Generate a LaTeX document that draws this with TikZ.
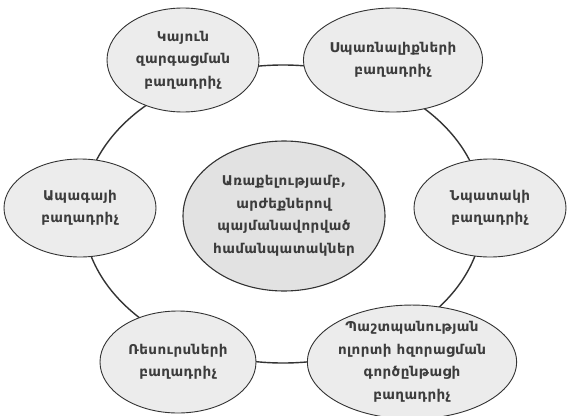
\documentclass[tikz,border=0pt]{standalone}
\usepackage{fontspec}
\setmainfont{DejaVu Sans}[LetterSpace=3]
\usetikzlibrary{shapes.geometric}
\definecolor{nodefill}{HTML}{ECECEC}
\definecolor{corefill}{HTML}{E2E2E2}
\definecolor{edge}{HTML}{333333}
\definecolor{label}{HTML}{3C3C3C}
\tikzset{
  part/.style={ellipse, draw=edge, line width=0.9pt, fill=nodefill,
    inner sep=0pt, text=label, align=center,
    font=\bfseries\fontsize{13.5}{22.5}\selectfont},
  core/.style={part, fill=corefill, line width=1.1pt},
  ringline/.style={draw=edge, line width=1.4pt}
}
\begin{document}
\begin{tikzpicture}[x=1pt,y=-1pt]
\useasboundingbox[fill=white] (0,0) rectangle (567,415);
% outer ring linking the components
\node[ringline, ellipse, minimum width=400pt, minimum height=298pt, inner sep=0pt] (ring) at (283,214) {};
% components around the ring
\node[part, minimum width=152pt, minimum height=104pt] (tl) at (183,60)
  {Կայուն\\զարգացման\\բաղադրիչ};
\node[part, minimum width=152pt, minimum height=104pt] (tr) at (393,60)
  {Սպառնալիքների\\բաղադրիչ};
\node[part, minimum width=152pt, minimum height=98pt] (lf) at (80,208)
  {Ապագայի\\բաղադրիչ};
\node[part, minimum width=152pt, minimum height=98pt] (rt) at (490,208)
  {Նպատակի\\բաղադրիչ};
\node[part, minimum width=156pt, minimum height=102pt] (bl) at (178,362)
  {Ռեսուրսների\\բաղադրիչ};
\node[part, minimum width=160pt, minimum height=104pt] (br) at (412,362)
  {Պաշտպանության\\ոլորտի հզորացման\\գործընթացի\\բաղադրիչ};
% central element
\node[core, minimum width=202pt, minimum height=150pt] (core) at (284,216)
  {Առաքելությամբ,\\արժեքներով\\պայմանավորված\\համանպատակներ};
\end{tikzpicture}
\end{document}
